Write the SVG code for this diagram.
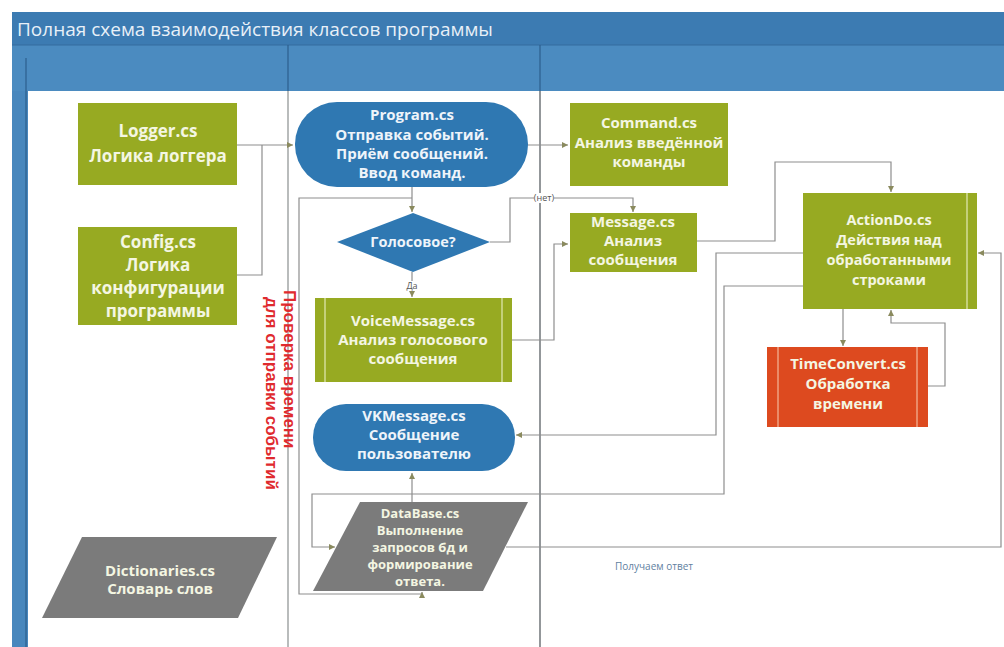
<svg xmlns="http://www.w3.org/2000/svg" width="1004" height="647" viewBox="0 0 1004 647">
<defs>
<style>
.green{fill:#97aa22;}
.blue{fill:#2f78b2;}
.gray{fill:#7b7b7b;}
.red{fill:#dd4a1f;}
.t{font-family:"Open Sans","Liberation Sans",sans-serif;font-weight:bold;fill:#f4f6e2;text-anchor:middle;}
.tb{font-family:"Open Sans","Liberation Sans",sans-serif;font-weight:bold;fill:#eef4fa;text-anchor:middle;}
.inner{stroke:#e3e9b8;stroke-width:1.2;fill:none;}
.innerR{stroke:#f4b89a;stroke-width:1.2;fill:none;}
.c{fill:none;stroke:#8e8e8e;stroke-width:1.2;}
.lbl{font-family:"Open Sans","Liberation Sans",sans-serif;font-size:9px;fill:#555;text-anchor:middle;}
</style>
<marker id="arr" markerWidth="8" markerHeight="8" refX="6" refY="3" orient="auto" markerUnits="userSpaceOnUse">
<path d="M0,0 L6,3 L0,6 Z" fill="#8a8a5e"/>
</marker>
</defs>
<rect x="0" y="0" width="1004" height="647" fill="#ffffff"/>
<!-- frame -->
<g id="frame">
<rect x="12" y="12" width="992" height="33" fill="#3c7bb2"/>
<rect x="12" y="45" width="992" height="46" fill="#4b8bc0"/>
<line x1="12" y1="45" x2="1004" y2="45" stroke="#356d9e" stroke-width="1"/>
<rect x="12" y="91" width="16" height="556" fill="#4887bd"/>
<line x1="26" y1="58" x2="26" y2="647" stroke="#2c5f8d" stroke-width="1.2"/>
<line x1="288" y1="45" x2="288" y2="91" stroke="#2c5f8d" stroke-width="1.2"/>
<line x1="540" y1="45" x2="540" y2="91" stroke="#2c5f8d" stroke-width="1.2"/>
<line x1="288" y1="91" x2="288" y2="647" stroke="#b9bcbc" stroke-width="2"/>
<line x1="540" y1="91" x2="540" y2="647" stroke="#6f7478" stroke-width="1.5"/>
<text x="17" y="36" font-family="Open Sans, Liberation Sans, sans-serif" font-size="19" fill="#e8f0f8">Полная схема взаимодействия классов программы</text>
</g>
<!-- connectors -->
<g id="connectors">
<path class="c" d="M237,145 H293" marker-end="url(#arr)"/>
<path class="c" d="M237,275 H262 V145"/>
<path class="c" d="M528,145 H568" marker-end="url(#arr)"/>
<path class="c" d="M412,187 V212" marker-end="url(#arr)"/>
<path class="c" d="M490,242 H510 V198 H633 V212" marker-end="url(#arr)"/>
<path class="c" d="M412,272 V297" marker-end="url(#arr)"/>
<path class="c" d="M512,340 H554 V244 H568" marker-end="url(#arr)"/>
<path class="c" d="M697,241 H775 V162 H891 V192" marker-end="url(#arr)"/>
<path class="c" d="M803,253 H716 V435 H516" marker-end="url(#arr)"/>
<path class="c" d="M803,286 H724 V494 H312 V547 H335" marker-end="url(#arr)"/>
<path class="c" d="M506,547 H1001 V253 H978" marker-end="url(#arr)"/>
<path class="c" d="M843,309 V346" marker-end="url(#arr)"/>
<path class="c" d="M928,386 H945 V323 H891 V310" marker-end="url(#arr)"/>
<path class="c" d="M412,502 V473" marker-end="url(#arr)"/>
<path class="c" d="M412,198 H299 V594 H422 V592" marker-end="url(#arr)"/>
<rect x="534" y="193" width="20" height="10" fill="#ffffff"/>
<text class="lbl" x="544" y="201">(нет)</text>
<rect x="405" y="281" width="14" height="10" fill="#ffffff"/>
<text class="lbl" x="412" y="289">Да</text>
<text x="266" y="297" transform="rotate(90 266 297)" font-family="Liberation Sans, Arial, sans-serif" font-weight="bold" font-size="17" fill="#df2a2e">для отправки событий</text>
<text x="284" y="290" transform="rotate(90 284 290)" font-family="Liberation Sans, Arial, sans-serif" font-weight="bold" font-size="17" fill="#df2a2e">Проверка времени</text>
<text x="615" y="570" font-family="Open Sans, Liberation Sans, sans-serif" font-size="10" fill="#5f7f9f">Получаем ответ</text>
</g>
<!-- nodes -->
<g id="logger">
<rect class="green" x="78" y="103" width="159" height="82"/>
<text class="t" font-size="17"><tspan x="158" y="137">Logger.cs</tspan><tspan x="158" y="162">Логика логгера</tspan></text>
</g>
<g id="config">
<rect class="green" x="78" y="227" width="159" height="98"/>
<text class="t" font-size="17"><tspan x="158" y="248">Config.cs</tspan><tspan x="158" y="271">Логика</tspan><tspan x="158" y="294">конфигурации</tspan><tspan x="158" y="317">программы</tspan></text>
</g>
<g id="program">
<rect class="blue" x="295" y="102" width="233" height="85" rx="42"/>
<text class="tb" font-size="15"><tspan x="412" y="120">Program.cs</tspan><tspan x="412" y="140">Отправка событий.</tspan><tspan x="412" y="159">Приём сообщений.</tspan><tspan x="412" y="178">Ввод команд.</tspan></text>
</g>
<g id="voice-check">
<polygon class="blue" points="337,242 413,213 490,242 413,272"/>
<text class="tb" font-size="14.5" x="413" y="247">Голосовое?</text>
</g>
<g id="voicemessage">
<rect class="green" x="315" y="298" width="197" height="84"/>
<line class="inner" x1="325" y1="298" x2="325" y2="382"/>
<line class="inner" x1="502" y1="298" x2="502" y2="382"/>
<text class="t" font-size="15"><tspan x="413" y="326">VoiceMessage.cs</tspan><tspan x="413" y="345">Анализ голосового</tspan><tspan x="413" y="364">сообщения</tspan></text>
</g>
<g id="vkmessage">
<rect class="blue" x="313" y="404" width="202" height="67" rx="33"/>
<text class="tb" font-size="15"><tspan x="414" y="421">VKMessage.cs</tspan><tspan x="414" y="440">Сообщение</tspan><tspan x="414" y="459">пользователю</tspan></text>
</g>
<g id="database">
<polygon class="gray" points="360,502 528,502 483,591 313,591"/>
<text class="t" font-size="13" fill="#eeeeee"><tspan x="420" y="518">DataBase.cs</tspan><tspan x="420" y="535">Выполнение</tspan><tspan x="420" y="552">запросов бд и</tspan><tspan x="420" y="569">формирование</tspan><tspan x="420" y="586">ответа.</tspan></text>
</g>
<g id="dictionaries">
<polygon class="gray" points="82,537 277,537 238,618 42,618"/>
<text class="t" font-size="15"><tspan x="160" y="576">Dictionaries.cs</tspan><tspan x="160" y="594">Словарь слов</tspan></text>
</g>
<g id="command">
<rect class="green" x="570" y="103" width="158" height="83"/>
<text class="t" font-size="15"><tspan x="649" y="128">Command.cs</tspan><tspan x="649" y="148">Анализ введённой</tspan><tspan x="649" y="167">команды</tspan></text>
</g>
<g id="message">
<rect class="green" x="570" y="213" width="127" height="59"/>
<text class="t" font-size="15"><tspan x="633" y="227">Message.cs</tspan><tspan x="633" y="246">Анализ</tspan><tspan x="633" y="265">сообщения</tspan></text>
</g>
<g id="actiondo">
<rect class="green" x="803" y="193" width="174" height="116"/>
<line class="inner" x1="967" y1="193" x2="967" y2="309"/>
<text class="t" font-size="14.5"><tspan x="889" y="225">ActionDo.cs</tspan><tspan x="889" y="245">Действия над</tspan><tspan x="889" y="265">обработанными</tspan><tspan x="889" y="285">строками</tspan></text>
</g>
<g id="timeconvert">
<rect class="red" x="767" y="347" width="161" height="80"/>
<line class="innerR" x1="778" y1="347" x2="778" y2="427"/>
<line class="innerR" x1="917" y1="347" x2="917" y2="427"/>
<text class="t" font-size="15"><tspan x="848" y="369">TimeConvert.cs</tspan><tspan x="848" y="389">Обработка</tspan><tspan x="848" y="409">времени</tspan></text>
</g>
</svg>
